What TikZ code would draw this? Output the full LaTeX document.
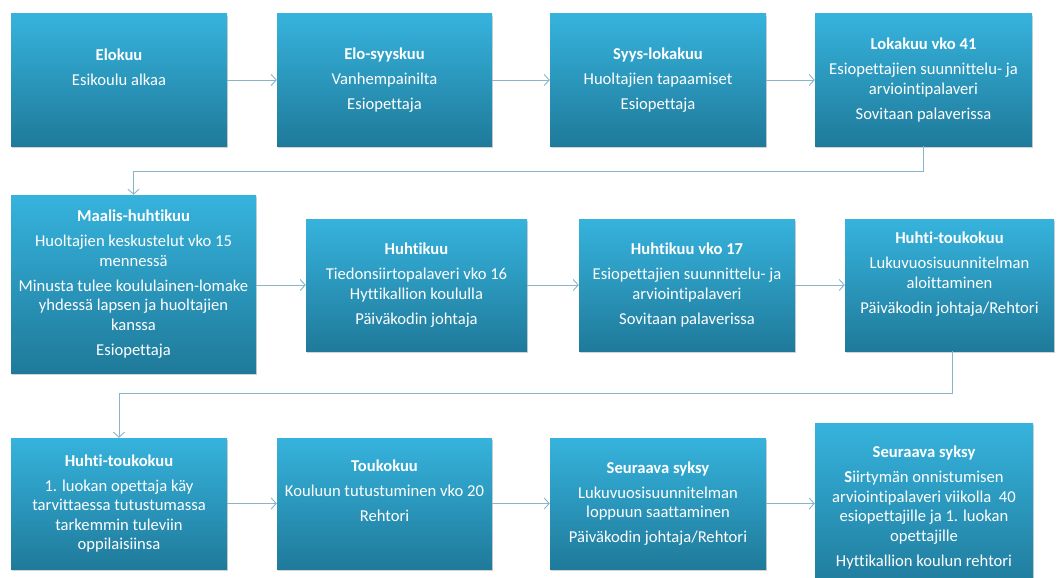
\documentclass[tikz,border=0pt]{standalone}
\usepackage{fontspec}
\setmainfont{Carlito}[Ligatures=NoCommon]
\usetikzlibrary{arrows.meta,shadows,calc}
\definecolor{boxtop}{HTML}{36B3DD}
\definecolor{boxbot}{HTML}{1F7A9A}
\definecolor{conn}{HTML}{8AB4C8}
\tikzset{
  stepbox/.style={rectangle, top color=boxtop, bottom color=boxbot, draw=none,
    text=white, align=center, inner sep=0pt,
    font=\fontsize{16.6}{19.5}\selectfont,
    drop shadow={opacity=0.35, shadow xshift=1pt, shadow yshift=-2pt}},
  flow/.style={draw=conn, line width=0.9pt, -{Straight Barb[length=5pt,width=11pt]}}
}
\newcommand{\gap}{\\[5.5pt]}
\begin{document}
\begin{tikzpicture}[x=1pt,y=-1pt]
\useasboundingbox (0,0) rectangle (1057,578);
% row 1
\node[stepbox, minimum width=216, minimum height=132] (b1) at (119,80)
  {\textbf{Elokuu}\gap Esikoulu alkaa\gap\phantom{X}};
\node[stepbox, minimum width=215, minimum height=132] (b2) at (384.5,80)
  {\textbf{Elo-syyskuu}\gap Vanhempainilta\gap Esiopettaja};
\node[stepbox, minimum width=216, minimum height=132] (b3) at (658,80)
  {\textbf{Syys-lokakuu}\gap Huoltajien tapaamiset\gap Esiopettaja};
\node[stepbox, minimum width=217, minimum height=132] (b4) at (923.5,80)
  {\textbf{Lokakuu vko 41}\gap Esiopettajien suunnittelu- ja\\arviointipalaveri\gap Sovitaan palaverissa};
% row 2
\node[stepbox, minimum width=245, minimum height=178] (b5) at (133.5,284)
  {\textbf{Maalis-huhtikuu}\gap Huoltajien keskustelut vko 15\\mennessä\gap Minusta tulee koululainen-lomake\\yhdessä lapsen ja huoltajien\\kanssa\gap Esiopettaja};
\node[stepbox, minimum width=221, minimum height=132] (b6) at (416.5,285)
  {\textbf{Huhtikuu}\gap Tiedonsiirtopalaveri vko 16\\Hyttikallion koululla\gap Päiväkodin johtaja};
\node[stepbox, minimum width=216, minimum height=132] (b7) at (687,285)
  {\textbf{Huhtikuu vko 17}\gap Esiopettajien suunnittelu- ja\\arviointipalaveri\gap Sovitaan palaverissa};
\node[stepbox, minimum width=209, minimum height=132] (b8) at (949.5,285)
  {\textbf{Huhti-toukokuu}\gap Lukuvuosisuunnitelman\\aloittaminen\gap Päiväkodin johtaja/Rehtori\gap\phantom{X}};
% row 3
\node[stepbox, minimum width=216, minimum height=131] (b9) at (119,503.5)
  {\textbf{Huhti-toukokuu}\gap 1. luokan opettaja käy\\tarvittaessa tutustumassa\\tarkemmin tuleviin\\oppilaisiinsa};
\node[stepbox, minimum width=215, minimum height=131] (b10) at (384.5,503.5)
  {\textbf{Toukokuu}\gap Kouluun tutustuminen vko 20\gap Rehtori\gap\phantom{X}};
\node[stepbox, minimum width=216, minimum height=131] (b11) at (658,503.5)
  {\textbf{Seuraava syksy}\gap Lukuvuosisuunnitelman\\loppuun saattaminen\gap Päiväkodin johtaja/Rehtori};
\node[stepbox, minimum width=218, minimum height=169] (b12) at (924,507.5)
  {\textbf{Seuraava syksy}\gap \textbf{S}iirtymän onnistumisen\\arviointipalaveri viikolla~ 40\\esiopettajille ja 1. luokan\\opettajille\gap Hyttikallion koulun rehtori};
% connectors
\draw[flow] (b1) -- (b2);
\draw[flow] (b2) -- (b3);
\draw[flow] (b3) -- (b4);
\coordinate (t1) at ($(b4.south)+(0,25)$);
\draw[flow] (b4.south) -- (t1) -| (b5.north);
\draw[flow] (b5.east |- b6.west) -- (b6.west);
\draw[flow] (b6) -- (b7);
\draw[flow] (b7) -- (b8);
\coordinate (t2) at ($(b8.south)+(2.5,42)$);
\draw[flow] (t2 |- b8.south) -- (t2) -| (b9.north);
\draw[flow] (b9) -- (b10);
\draw[flow] (b10) -- (b11);
\draw[flow] (b11.east) -- (b12.west |- b11.east);
\end{tikzpicture}
\end{document}
